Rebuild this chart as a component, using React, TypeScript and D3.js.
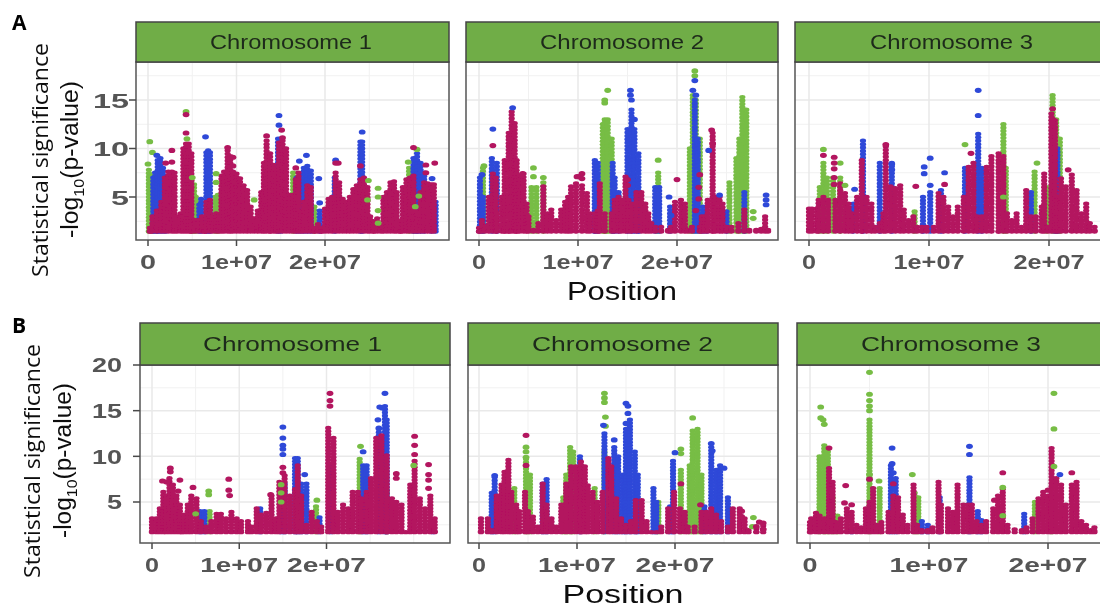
import * as d3 from "d3";

type Col = [number, number]; // [position in Mb, -log10 p]

const CRIMSON = "#b3135f";
const BLUE = "#2f48d8";
const GREEN = "#77bd45";
const STRIP = "#70ad47";
const DARK = "#4a4a4a";

const xMajor = [0, 10, 20];
const xLabels = ["0", "1e+07", "2e+07"];
const yMajorA = [5, 10, 15];
const yMajorB = [5, 10, 15, 20];
const yMinorA = [2.5, 7.5, 12.5, 17.5];
const yMinorB = [2.5, 7.5, 12.5, 17.5];

// Row A, chromosome 1
const a1Crimson: Col[] = [[0.2,1.8],[0.5,3],[1,3.6],[1.5,4.5],[1.9,7],[2.3,7.6],[2.7,7.6],[3,7.5],[3.3,3],[3.7,3.3],[4,10],[4.3,10.5],[4.6,10.5],[4.9,9.5],[5.3,2.6],[5.7,2.6],[6.1,3],[6.4,1.8],[6.6,4.5],[7,4.7],[7.3,3],[7.7,3.3],[8,3],[8.3,7.2],[8.6,7.6],[9,9.8],[9.3,9.2],[9.6,7.6],[10,7.4],[10.4,6.9],[10.8,6.2],[11.2,5.7],[11.6,4],[12,2.8],[12.4,3.6],[12.8,5.5],[13.1,8.5],[13.4,10.8],[13.8,9.5],[14.2,8.3],[14.5,7.8],[14.8,10.6],[15.2,10.8],[15.6,10],[16,5.2],[16.4,5.2],[16.7,6.8],[17,7.5],[17.3,3.5],[17.6,4.5],[18,6.2],[18.4,6],[18.8,1.8],[19.2,2.2],[19.6,1.8],[20,3.8],[20.4,4.8],[20.8,5],[21.2,7.5],[21.6,6.5],[22,4.8],[22.4,4.5],[22.8,5],[23.2,5.8],[23.6,6.2],[24,6.8],[24.4,7],[24.8,6],[25.1,3],[25.5,2.5],[25.9,2.8],[26.3,2],[26.6,5],[27,5.5],[27.4,6.5],[27.8,6.6],[28.1,5.5],[28.5,2.5],[28.8,6],[29.2,6.8],[29.6,7],[30,7.2],[30.4,3.5],[30.8,5.5],[31.2,6.5],[31.6,6.4],[32,6.3],[32.3,6.3]];
const a1Blue: Col[] = [[0.6,7],[0.8,7.5],[1.1,8.8],[1.4,9],[1.7,8],[2,6],[5.8,4.2],[6,4.8],[6.6,9.6],[6.8,9.8],[7,9.6],[14.7,11],[15,11],[16.8,7],[17.2,7.3],[17.6,8],[18,8.2],[18.4,7.7],[19.4,3.6],[21.1,7],[24,10.7],[24.2,10.7],[30,9],[30.4,9.5],[30.8,8.5],[31.2,7.5],[32,4.5],[32.5,4.5]];
const a1Green: Col[] = [[0.1,7.8],[0.4,7.2],[0.6,6],[4.9,7],[5.2,6.3],[5.4,5],[7.6,5],[7.9,5.2],[16.4,7.5],[18.8,4],[29.5,8],[30,8]];
const a1CrimsonDots: Col[] = [[4.3,13.5],[4.3,11.6],[2.7,9.8],[2.7,8.6],[2,8.5],[9,10.1],[9.6,9.1],[9.6,8.2],[13.4,11.3],[15.1,11.9],[15.2,11.1],[16.7,8],[21.2,8.5],[21.5,8.5],[24,8.2],[30,10.1],[31.4,8.3],[32.4,8.5],[31.4,7.5]];
const a1BlueDots: Col[] = [[6.5,11.2],[14.8,13.4],[14.8,12.4],[17.1,8.7],[17.9,9.3],[19.3,6.9],[19.4,4.4],[21.2,8.8],[24.2,11.7],[32.1,6.9],[1,9.3]];
const a1GreenDots: Col[] = [[0.2,10.7],[0.5,9.6],[0,8.4],[4.3,13.8],[4.4,11],[7.7,7.4],[7.7,6.5],[26,5.9],[26,5],[26,3.6],[26,2.3],[30.4,9.9],[29.4,8.6],[30.6,5.1],[30.2,4],[24.9,6.7],[24.8,4.7],[12,4.7],[5,7]];

// Row A, chromosome 2
const a2Crimson: Col[] = [[0,1.8],[0.3,2.6],[0.6,2],[1,5],[1.4,7.4],[1.7,7],[1.8,3.3],[2.3,5],[2.6,8.8],[3,11.6],[3.3,13.8],[3.6,12.6],[3.8,8.8],[4.1,7.1],[4.5,7.4],[4.8,4.3],[5,3],[5.5,1.6],[6,2.3],[6.5,6.1],[6.9,3.3],[7.3,3.7],[7.8,2.6],[8.3,3.7],[8.7,4.5],[9,5],[9.3,6.1],[9.8,6.4],[10.4,6.2],[10.9,5.4],[11.2,3.3],[11.7,3.3],[12,3.6],[12.2,6.4],[12.7,3.3],[13.4,3.3],[13.7,4.7],[14.1,5],[14.4,4.7],[14.8,7.1],[15.1,4.7],[15.4,4.3],[15.9,5.5],[16.4,5.5],[16.8,4.3],[17.1,3.3],[17.4,2.3],[17.8,1.9],[18.4,1.9],[19.1,1.6],[19.4,1.9],[19.8,4.5],[20.4,4.7],[20.8,4.3],[21.1,1.6],[21.5,1.9],[22.3,1.9],[22.5,3],[22.8,3],[23.1,4.7],[23.6,11.6],[23.9,5],[24.3,5],[24.6,4.3],[25,1.9],[25.5,1.9],[26.2,2.3],[26.8,3.7],[27.3,1.6],[28,1.6],[28.5,1.7],[28.9,3],[29.2,1.6]];
const a2Blue: Col[] = [[0.1,7],[0.4,5],[1.3,9],[1.8,8.5],[11.7,8.8],[12,8.5],[13.5,8.5],[13.7,7],[14.1,5.5],[15,12],[15.4,14],[15.7,12],[16.1,9.5],[17.8,6],[18.2,6],[19.3,4],[21.8,15],[22.1,11],[22.6,4],[23,4],[25,3.5],[26.8,5.5]];
const a2Green: Col[] = [[0.4,8],[5.3,6],[5.8,6],[6.5,6.5],[12.5,12.5],[12.7,13],[13,13],[13.4,11],[18,5],[18.1,7.5],[21.3,10],[21.6,15.5],[21.9,15],[22.3,11],[25.3,6.5],[26,9],[26.3,11],[26.6,15.3],[27,14]];
const a2CrimsonDots: Col[] = [[10.2,7.1],[10.4,7.4],[20,6.8],[1.4,10.3],[23.5,11.9],[23.6,10.5],[4.4,7.4],[4.3,7.2],[15,6.2],[15,6.8],[22.3,7.3],[22.2,6],[9.9,7.1],[10.4,6.9],[21.9,3.6],[22.2,4.8]];
const a2BlueDots: Col[] = [[1.4,12],[0.3,7.3],[3.4,14.2],[15.3,16],[15.3,15.5],[15.7,13],[15.4,15],[21.8,17],[21.6,16],[21.9,15.5],[29,5.2],[29,4.7],[29,4.2],[24.3,5.2],[23.2,9.8],[19.4,3.1],[19.2,5]];
const a2GreenDots: Col[] = [[5.5,8],[5.5,7.1],[6.5,7],[13,16],[12.7,15],[12.7,14.7],[21.8,18],[21.8,17.5],[27.7,3.5],[27.7,2.8],[18.1,8.8],[0.5,8.2]];

// Row A, chromosome 3
const a3Crimson: Col[] = [[0,3.8],[0.25,3.8],[0.65,3.8],[0.8,4.7],[1.2,5],[1.6,4.7],[2.2,4.7],[2.6,6.4],[3,5.4],[3.3,4.3],[3.6,3.3],[4,5],[4.4,8.8],[4.8,5],[5.2,4.3],[5.5,1.9],[5.9,2.3],[6.2,3.3],[6.4,10.2],[6.8,6.1],[7.2,5.9],[7.6,6.2],[7.9,3.7],[8.3,2.6],[8.7,3],[9,1.9],[9.4,1.9],[9.8,1.9],[10.4,1.9],[10.8,5.4],[11.2,5],[11.6,4],[12,3],[12.4,4],[12.9,5],[13.3,8.1],[13.7,8.5],[14,3],[14.4,3],[14.8,8.1],[15.2,9.2],[15.8,9.5],[16.2,9.2],[16.5,3.3],[16.9,2.6],[17.3,3.3],[17.7,1.9],[18.1,5.7],[18.5,3],[18.9,3],[19.4,4],[19.6,7.4],[19.9,1.9],[20.2,13.6],[20.5,12.9],[20.7,5],[21,6.9],[21.4,6.1],[21.9,7.3],[22.3,5.7],[22.7,3.3],[23.1,4.3],[23.4,2.3],[23.8,1.9]];
const a3Blue: Col[] = [[3.7,4.3],[4.5,10.8],[5.9,8.5],[6.9,8.5],[9.5,5],[10.1,5.5],[11,5.7],[13,8],[14.1,11.5],[14.4,8],[18.5,5.5],[20.5,7],[20.7,10]];
const a3Green: Col[] = [[0.9,6],[1.2,8.5],[1.5,7],[2,7],[2.6,7],[8.8,3.5],[16.2,12.5],[16.4,8],[18.8,7.6],[19.8,6],[20.3,15.5],[20.6,13],[20.8,9],[20.9,11]];
const a3CrimsonDots: Col[] = [[2.1,9.1],[2.1,8.5],[2.1,7.9],[2.1,7],[2.1,6.3],[1.2,9.3],[6.4,10.4],[8.9,6.1],[11.3,6.3],[13.5,9.5],[21.6,7.8],[20.3,14.1],[20.3,13]];
const a3BlueDots: Col[] = [[14.1,16],[14.1,13.4],[10.1,9],[9.6,8.1],[9.6,7.4],[10.1,6.2],[11.3,7.5],[3.8,5.8],[6.9,8.4],[6.9,7.8]];
const a3GreenDots: Col[] = [[1.2,9.9],[2.6,8.5],[3,6.2],[13,10.4],[19,8.5],[16.2,5]];

// Row B, chromosome 1
const b1Crimson: Col[] = [[0,3.2],[0.5,3.2],[0.9,4.3],[1.3,6.1],[1.6,5.7],[2,7.6],[2.4,6.9],[2.8,5.7],[3.2,4.7],[3.4,2.9],[3.7,3.6],[4.1,4.7],[4.5,5.7],[5.1,5.4],[5.6,2.9],[6.2,2.3],[6.8,2.9],[7.4,3.7],[7.9,3.7],[8.5,3.2],[9.1,3.9],[9.7,3.2],[10.2,2.9],[11,2.9],[11.4,2.3],[12,4.3],[12.5,3.6],[13.1,3.8],[13.7,5.7],[14.2,3.2],[14.6,7.2],[15.2,7.9],[15.8,5.7],[16.4,6.4],[16.7,9],[17.1,5.7],[17.7,2.5],[18.3,3.9],[18.9,2.9],[19.4,2.3],[20.2,13.1],[20.8,12],[21.3,3.9],[21.9,4.7],[22.5,4.3],[23,6.1],[23.6,6.1],[24,5.4],[24.6,6.1],[25.1,7.6],[25.7,12],[26.3,12.3],[26.9,10.1],[27.5,5.4],[28,5],[28.6,4.7],[29.1,1.6],[29.6,6.9],[30.1,9.5],[30.7,5.4],[31.3,4.3],[31.9,5.7],[32.4,3.2]];
const b1Blue: Col[] = [[5.5,4],[6,4],[12.4,4.3],[14.8,7],[15.2,7],[16.4,9.8],[16.7,9.8],[17.1,7],[17.7,7],[19.2,3.3],[20.5,8.9],[24.2,9],[24.6,9],[26,13],[26.7,15.5],[26.9,14],[32.2,3]];
const b1Green: Col[] = [[6.6,4],[18.8,4.5],[23.8,9.7],[26.9,6.3]];
const b1CrimsonDots: Col[] = [[20.4,16.9],[20.4,16.1],[20.4,15.5],[1.2,7.3],[2.1,8.7],[2.1,8.3],[3.2,7.4],[4.7,6.6],[8.8,7.5],[8.8,6.3],[8.9,5.7],[13.6,5.8],[15,8.8],[15,8.2],[28,8.1],[28,7.6],[30.1,12.2],[30.1,11.2],[30.1,10.2],[31.7,9.1],[31.7,8],[31.7,7.4],[31.7,6.5],[1.7,7.2],[3,6.2]];
const b1BlueDots: Col[] = [[15,13.2],[15,12],[15,11.2],[15,10.8],[15,10.2],[17.5,8],[24.2,10.5],[26.7,16.9],[26.1,15.4],[26.4,15.3],[25.9,14],[26,13.1]];
const b1GreenDots: Col[] = [[6.5,6.2],[6.5,5.8],[5,3.7],[18.9,5.2],[23.9,11.1],[14.8,6.9],[14.8,6],[14.8,5],[30,9]];

// Row B, chromosome 2
const b2Crimson: Col[] = [[0.2,3.2],[0.9,3.2],[1.3,1.9],[1.8,5.7],[2.3,6.9],[2.6,8.3],[3,9.6],[3.3,6.1],[3.8,4.7],[4.1,4],[4.7,6.1],[5,4],[5.5,3.4],[6,2.3],[6.5,7],[6.9,4.7],[7.4,3.2],[7.9,2.3],[8.4,4.7],[8.9,7],[9.4,8.9],[9.9,8.9],[10.4,9.4],[10.8,8.9],[11.1,6.8],[11.6,6.1],[12.1,5],[12.6,6.1],[13.2,9.8],[13.5,8.9],[14,5.4],[14.5,3.2],[15,2.5],[15.5,2.9],[16,5.2],[16.6,5.2],[17.1,2.9],[17.6,1.6],[18.1,1.6],[18.6,2.3],[19.3,4.3],[19.9,6.1],[20.5,4.3],[21,3.9],[21.3,2.3],[22,2.3],[22.7,3.9],[23.2,3.9],[23.7,4.3],[24.2,3.6],[24.7,2.9],[25.4,2.3],[25.9,4.3],[26.6,4.3],[27.1,3.2],[27.5,1.9],[28.3,2.1],[29,2.4]];
const b2Blue: Col[] = [[1.3,6],[1.6,7.7],[6.5,7],[6.9,7.5],[10.3,10],[12.8,12.5],[13.8,11],[14.2,10],[14.7,8],[15,13],[15.4,14],[15.9,10.5],[16.2,8],[17.8,6.5],[18.1,5],[19.5,4.5],[19.8,9.5],[23,4.5],[23.7,11],[24.2,8.5],[24.6,9],[25.4,5.5]];
const b2Green: Col[] = [[3.6,6.5],[4.8,9.7],[5.2,8],[8.6,5.5],[8.9,8],[9.3,11],[9.6,10.5],[11.8,6.5],[12.8,10.5],[18.3,5],[20.6,8.5],[21.5,9],[21.8,12.8],[22.3,13],[22.7,8]];
const b2CrimsonDots: Col[] = [[4.8,12.3],[4.8,9],[20.6,7],[22.6,4.7],[28.6,2.8],[29,2.7],[29,2],[28.3,2.3],[26.8,4],[26.8,3.4]];
const b2BlueDots: Col[] = [[15,15.8],[15.2,15.5],[15.2,14.7],[15,13.6],[12.7,13.4],[20,10.4],[23.7,11.4],[23.8,10.6],[25,8.7],[1.6,7.9],[13.8,11.8]];
const b2GreenDots: Col[] = [[4.8,9.9],[4.8,10.5],[4.8,11],[12.8,16.9],[12.8,16.4],[12.8,15.9],[12.9,14.3],[12.9,13.3],[21.8,14.2],[20.6,10.8],[20.6,10.3],[28,3.3],[27.9,2.3]];

// Row B, chromosome 3
const b3Crimson: Col[] = [[0,2.8],[0.1,3.2],[0.5,3.8],[0.8,3.5],[1.2,3.2],[1.6,8.7],[1.9,7.2],[2.2,2.8],[2.6,3.2],[3.1,4.3],[3.5,3.9],[3.9,2.5],[4.3,2.2],[4.7,4.3],[5,5],[5.3,6.5],[5.6,2.5],[6,2.8],[6.6,3.9],[7,5.7],[7.4,5.5],[7.8,3.6],[8.2,2.5],[8.7,6.9],[9,2.5],[9.4,1.9],[9.9,1.9],[10.3,2.2],[10.8,7.2],[11,4.7],[11.6,4.3],[12,3.9],[12.4,6.9],[12.9,4.7],[13.3,4.7],[13.6,4.7],[14,2.9],[14.4,2.5],[14.8,2.9],[15.4,4.3],[15.8,5.7],[16.2,6.4],[16.6,2.5],[17.2,2],[17.8,1.9],[18.2,2.2],[18.7,3.2],[19.2,5.4],[19.6,6.1],[20,5.7],[20.3,10.9],[20.7,7.6],[21.1,6.9],[21.5,4.7],[22,6.9],[22.4,7.2],[22.8,2.9],[23.2,2.5],[23.6,1.9],[23.9,2.2]];
const b3Blue: Col[] = [[3.5,2],[6.8,9],[7.2,7.6],[9.4,2.9],[9.9,2.5],[10.9,5.5],[13.4,7.7],[14.1,4],[14.4,3],[18,3.7]];
const b3Green: Col[] = [[0.8,10],[1.2,11.2],[1.5,10.5],[1.9,5.5],[2.3,3.5],[5,14],[5.85,6.5],[8.8,6],[9.1,5.5],[18.9,5],[20.3,5]];
const b3CrimsonDots: Col[] = [[1.6,10.9],[3,6.8],[2.9,4.9],[3.5,4.7],[16.2,8.2],[22,8.2],[15.5,5.2],[20,6.3],[5,7.5],[7,7]];
const b3BlueDots: Col[] = [[6.9,10.9],[13.4,11.1],[13.4,10.2],[21,8],[6.9,9.2],[7,8.2],[7,6.5]];
const b3GreenDots: Col[] = [[0.9,15.4],[0.9,14.2],[1.1,14],[1.2,13.5],[5,19.2],[5,16.8],[5,16.1],[5,15.5],[5,15],[5,8],[5.8,7.3],[20.5,16.9],[20.5,13],[20.5,8.9],[8.6,8],[16.2,6.6],[16.2,3.5]];

const panels = [
  { id: "a1", title: "Chromosome 1", row: "A", box: [136, 449], x: [148, 325], titleBox: [210, 372], xMinor: [5, 15, 25, 30], cols: [a1Green, a1Blue, a1Crimson], dots: [a1GreenDots, a1BlueDots, a1CrimsonDots] },
  { id: "a2", title: "Chromosome 2", row: "A", box: [466, 778], x: [479, 677], titleBox: [540, 704], xMinor: [5, 15, 25], cols: [a2Green, a2Blue, a2Crimson], dots: [a2GreenDots, a2BlueDots, a2CrimsonDots] },
  { id: "a3", title: "Chromosome 3", row: "A", box: [795, 1110], x: [809, 1049], titleBox: [870, 1033], xMinor: [5, 15], cols: [a3Green, a3Blue, a3Crimson], dots: [a3GreenDots, a3BlueDots, a3CrimsonDots] },
  { id: "b1", title: "Chromosome 1", row: "B", box: [140, 450], x: [152, 326.5], titleBox: [203, 382], xMinor: [5, 15, 25, 30], cols: [b1Green, b1Blue, b1Crimson], dots: [b1GreenDots, b1BlueDots, b1CrimsonDots] },
  { id: "b2", title: "Chromosome 2", row: "B", box: [468, 778], x: [479, 675], titleBox: [532, 713], xMinor: [5, 15, 25], cols: [b2Green, b2Blue, b2Crimson], dots: [b2GreenDots, b2BlueDots, b2CrimsonDots] },
  { id: "b3", title: "Chromosome 3", row: "B", box: [797, 1110], x: [810, 1048], titleBox: [861, 1041], xMinor: [5, 15], cols: [b3Green, b3Blue, b3Crimson], dots: [b3GreenDots, b3BlueDots, b3CrimsonDots] },
];

const rows = {
  A: { stripTop: 22, top: 62, bottom: 240, y: { domain: [5, 15], range: [197, 100] }, floor: 1.45, major: yMajorA, minor: yMinorA, tickBase: 269, tickFont: 20, yFont: 21, yWidth: 36, yRight: 129, titleFont: 20 },
  B: { stripTop: 323, top: 365, bottom: 543, y: { domain: [5, 20], range: [502, 365] }, floor: 1.7, major: yMajorB, minor: yMinorB, tickBase: 572, tickFont: 21, yFont: 20, yWidth: 30, yRight: 122, titleFont: 21 },
};

const seriesColors = [GREEN, BLUE, CRIMSON];
const STEP = 0.35;
const FONT = "'Liberation Sans', Arial, sans-serif";

const labelWidths: Record<string, number[]> = {
  a1: [16, 71, 72],
  a2: [14, 71, 72],
  a3: [14, 71, 71],
  b1: [14, 78, 79],
  b2: [14, 78, 79],
  b3: [15, 79, 79],
};

const Panel = ({ p }: { p: (typeof panels)[number] }) => {
  const r = rows[p.row as "A" | "B"];
  const xScale = d3.scaleLinear().domain([0, 20]).range(p.x);
  const yScale = d3.scaleLinear().domain(r.y.domain).range(r.y.range);
  const [left, right] = p.box;
  const cx = (p.titleBox[0] + p.titleBox[1]) / 2;

  return (
    <g>
      <rect x={left} y={r.top} width={right - left} height={r.bottom - r.top} fill="#fff" />
      {/* grid */}
      {r.minor.map((v) => (
        <line key={"ym" + v} x1={left} x2={right} y1={yScale(v)} y2={yScale(v)} stroke="#f1f1f1" strokeWidth={1} />
      ))}
      {p.xMinor.map((v) => (
        <line key={"xm" + v} x1={xScale(v)} x2={xScale(v)} y1={r.top} y2={r.bottom} stroke="#f1f1f1" strokeWidth={1} />
      ))}
      {r.major.map((v) => (
        <line key={"yM" + v} x1={left} x2={right} y1={yScale(v)} y2={yScale(v)} stroke="#e9e9e9" strokeWidth={1.5} />
      ))}
      {xMajor.map((v) => (
        <line key={"xM" + v} x1={xScale(v)} x2={xScale(v)} y1={r.top} y2={r.bottom} stroke="#e9e9e9" strokeWidth={1.5} />
      ))}
      {/* stacked columns of points, from the floor to the top */}
      {p.cols.map((cols, s) => (
        <g key={s} fill={seriesColors[s]}>
          {cols.flatMap(([pos, top], i) =>
            d3.range(top, r.floor, -STEP).concat(r.floor).map((v, j) => (
              <ellipse key={i + "-" + j} cx={xScale(pos)} cy={yScale(v)} rx={3.1} ry={2.2} />
            ))
          )}
        </g>
      ))}
      {p.dots.map((dots, s) => (
        <g key={s} fill={seriesColors[s]}>
          {dots.map(([pos, v], i) => (
            <ellipse key={i} cx={xScale(pos)} cy={yScale(v)} rx={3.4} ry={2.6} />
          ))}
        </g>
      ))}
      <rect x={left} y={r.top} width={right - left} height={r.bottom - r.top} fill="none" stroke="#555" strokeWidth={1.5} />
      {/* strip */}
      <rect x={left} y={r.stripTop} width={right - left} height={r.top - r.stripTop} fill={STRIP} stroke="#444" strokeWidth={1.5} />
      <text
        x={cx}
        y={(r.stripTop + r.top) / 2 + 7}
        textAnchor="middle"
        fontFamily={FONT}
        fontSize={r.titleFont}
        fill="#1f2a1a"
        textLength={p.titleBox[1] - p.titleBox[0]}
        lengthAdjust="spacingAndGlyphs"
      >
        {p.title}
      </text>
      {/* x axis */}
      {xMajor.map((v, i) => (
        <g key={v}>
          <line x1={xScale(v)} x2={xScale(v)} y1={r.bottom} y2={r.bottom + 6} stroke={DARK} strokeWidth={1.5} />
          <text
            x={xScale(v)}
            y={r.tickBase}
            textAnchor="middle"
            fontFamily={FONT}
            fontWeight="bold"
            fontSize={r.tickFont}
            fill="#555"
            textLength={labelWidths[p.id][i]}
            lengthAdjust="spacingAndGlyphs"
          >
            {xLabels[i]}
          </text>
        </g>
      ))}
      {/* y axis only on the first column */}
      {left < 200 &&
        r.major.map((v) => (
          <g key={v}>
            <line x1={left - 7} x2={left} y1={yScale(v)} y2={yScale(v)} stroke={DARK} strokeWidth={1.5} />
            <text
              x={r.yRight}
              y={yScale(v) + r.yFont * 0.36}
              textAnchor="end"
              fontFamily={FONT}
              fontWeight="bold"
              fontSize={r.yFont}
              fill="#555"
              textLength={(r.yWidth * String(v).length) / 2}
              lengthAdjust="spacingAndGlyphs"
            >
              {v}
            </text>
          </g>
        ))}
    </g>
  );
};

const YTitle = ({ x1, x2, y1Bottom, y1Top, y2Bottom, y2Top }: { x1: number; x2: number; y1Bottom: number; y1Top: number; y2Bottom: number; y2Top: number }) => (
  <g fill="#111">
    <text
      transform={`translate(${x1},${y1Bottom}) rotate(-90)`}
      fontFamily="'Open Sans', sans-serif"
      fontSize={22}
      textLength={y1Bottom - y1Top}
      lengthAdjust="spacingAndGlyphs"
    >
      Statistical significance
    </text>
    <text
      transform={`translate(${x2},${y2Bottom}) rotate(-90)`}
      fontFamily={FONT}
      fontSize={23}
      textLength={y2Bottom - y2Top}
      lengthAdjust="spacingAndGlyphs"
    >
      -log
      <tspan dy={6} fontSize={15}>10</tspan>
      <tspan dy={-6}>(p-value)</tspan>
    </text>
  </g>
);

export default function App() {
  return (
    <div style={{ position: "absolute", left: 0, top: 0, width: 1100, height: 608, overflow: "hidden", background: "#fff" }}>
      <svg width={1100} height={608} style={{ display: "block" }}>
        <defs>
          <filter id="soft" x="0" y="0" width="100%" height="100%">
            <feGaussianBlur stdDeviation="0.45" />
          </filter>
        </defs>
        <g filter="url(#soft)">
          {panels.map((p) => (
            <Panel key={p.id} p={p} />
          ))}
          <YTitle x1={48} x2={78} y1Bottom={277} y1Top={43} y2Bottom={238} y2Top={81} />
          <YTitle x1={40} x2={71} y1Bottom={578} y1Top={344} y2Bottom={538} y2Top={383} />
          <text x={622} y={300} textAnchor="middle" fontFamily={FONT} fontSize={25} fill="#111" textLength={110} lengthAdjust="spacingAndGlyphs">Position</text>
          <text x={623} y={603} textAnchor="middle" fontFamily={FONT} fontSize={25} fill="#111" textLength={121} lengthAdjust="spacingAndGlyphs">Position</text>
          <text x={12} y={30} fontFamily="'Open Sans', sans-serif" fontWeight="bold" fontSize={21} fill="#000">A</text>
          <text x={12} y={333} fontFamily="'Open Sans', sans-serif" fontWeight="bold" fontSize={21} fill="#000">B</text>
        </g>
      </svg>
    </div>
  );
}
